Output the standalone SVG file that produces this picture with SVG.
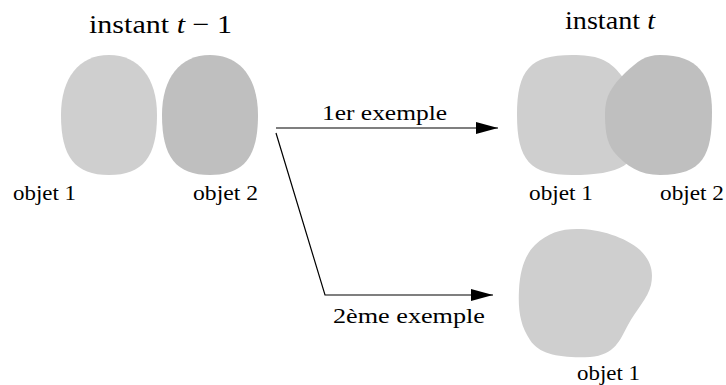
<svg xmlns="http://www.w3.org/2000/svg" width="726" height="385" viewBox="0 0 726 385">
<style>
text { font-family: "Liberation Serif", "Times New Roman", serif; fill: #000; }
.title { font-size: 26px; }
.lbl { font-size: 22px; }
.o1 { fill: #cfcfcf; }
.o2 { fill: #bfbfbf; }
.conn { fill: none; stroke: #000; stroke-width: 1.2; }
</style>
<defs>
<marker id="ah" markerWidth="22" markerHeight="12" refX="22" refY="6" orient="auto" markerUnits="userSpaceOnUse">
<path d="M0,0 L22,6 L0,12 Z" fill="#000"/>
</marker>
</defs>
<rect width="726" height="385" fill="#fff"/>
<text class="title" x="89" y="33" textLength="143" lengthAdjust="spacingAndGlyphs">instant <tspan font-style="italic">t</tspan> − 1</text>
<text class="title" x="565" y="29" textLength="90" lengthAdjust="spacingAndGlyphs">instant <tspan font-style="italic">t</tspan></text>
<g id="left-obj1">
<path class="o1" d="M109,55 C139,55 157,78 157,115 C157,157 143,175 109,175 C75,175 61,157 61,115 C61,78 79,55 109,55 Z"/>
<text class="lbl" x="13" y="200" textLength="63" lengthAdjust="spacingAndGlyphs">objet 1</text>
</g>
<g id="left-obj2">
<path class="o2" d="M210,55 C240,55 258,78 258,115 C258,157 244,175 210,175 C176,175 162,157 162,115 C162,78 180,55 210,55 Z"/>
<text class="lbl" x="193" y="200" textLength="65" lengthAdjust="spacingAndGlyphs">objet 2</text>
</g>
<g id="right-obj1">
<path class="o1" d="M572,55 C596,55 609,59 621,75 C634,92 640,110 640,130 C640,165 620,175 572,175 C530,175 517,160 517,115 C517,70 530,55 572,55 Z"/>
<text class="lbl" x="529" y="200" textLength="64" lengthAdjust="spacingAndGlyphs">objet 1</text>
</g>
<g id="right-obj2">
<path class="o2" d="M660,55 C698,55 712,75 712,112 C712,155 703,175 660,175 C640,175 626,166 614,152 C606,142 605,128 605,113 C605,96 612,86 625,73 C638,61 645,55 660,55 Z"/>
<text class="lbl" x="660" y="200" textLength="64" lengthAdjust="spacingAndGlyphs">objet 2</text>
</g>
<g id="bottom-obj1">
<path class="o1" d="M577,229 C600,229 625,237 640,250 C650,260 654,270 651,285 C648,298 636,310 628,325 C620,340 615,355 590,357 C560,358 540,355 530,340 C520,325 518,310 519,290 C520,270 525,255 535,245 C548,233 560,229 577,229 Z"/>
<text class="lbl" x="577" y="380" textLength="63" lengthAdjust="spacingAndGlyphs">objet 1</text>
</g>
<g id="connectors">
<path class="conn" d="M276,128 L498,128" marker-end="url(#ah)"/>
<path class="conn" d="M276,133 L325,295 L493,295" marker-end="url(#ah)"/>
<text class="lbl" x="322" y="120" textLength="125" lengthAdjust="spacingAndGlyphs">1er exemple</text>
<text class="lbl" x="333" y="323" textLength="152" lengthAdjust="spacingAndGlyphs">2ème exemple</text>
</g>
</svg>
